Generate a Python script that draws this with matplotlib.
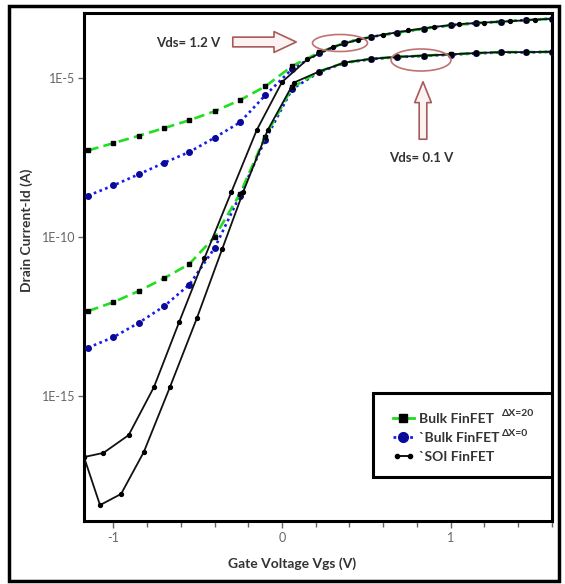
import numpy as np
import matplotlib
matplotlib.use("Agg")
import matplotlib.pyplot as plt
from matplotlib.lines import Line2D
from matplotlib.patches import Rectangle, Ellipse, FancyArrowPatch
from matplotlib.legend_handler import HandlerLine2D
from matplotlib.ticker import FixedLocator, FixedFormatter, MultipleLocator, NullLocator

plt.rcParams['font.family'] = ['Lato', 'DejaVu Sans']

# ---- data: gate voltage (V) and log10 of drain current (A) ----
vgs_bulk = [-1.15, -1.0, -0.85, -0.7, -0.55, -0.4, -0.25, -0.1, 0.06, 0.22,
            0.37, 0.53, 0.68, 0.84, 1.0, 1.15, 1.3, 1.45, 1.6]

# Bulk FinFET, dX = 20
log_id_bulk20_hi = [-7.28, -7.05, -6.82, -6.58, -6.33, -6.05, -5.70, -5.27, -4.63, -4.20,
                    -3.90, -3.71, -3.58, -3.45, -3.35, -3.28, -3.23, -3.18, -3.14]
log_id_bulk20_lo = [-12.33, -12.05, -11.70, -11.30, -10.85, -10.00, -8.65, -6.85, -5.30, -4.80,
                    -4.52, -4.40, -4.34, -4.30, -4.26, -4.22, -4.19, -4.19, -4.18]
# Bulk FinFET, dX = 0
log_id_bulk0_hi = [-8.70, -8.38, -8.03, -7.67, -7.33, -6.88, -6.40, -5.55, -4.72, -4.22,
                   -3.90, -3.71, -3.58, -3.45, -3.35, -3.28, -3.23, -3.18, -3.14]
log_id_bulk0_lo = [-13.48, -13.15, -12.70, -12.18, -11.50, -10.35, -8.70, -6.95, -5.35, -4.82,
                   -4.53, -4.41, -4.35, -4.31, -4.27, -4.23, -4.20, -4.20, -4.18]

# SOI FinFET
vgs_soi_hi = [-1.175, -1.06, -0.91, -0.76, -0.61, -0.46, -0.30, -0.15, 0.0, 0.15,
              0.3, 0.45, 0.6, 0.75, 0.9, 1.05, 1.2, 1.35, 1.5, 1.6]
log_id_soi_hi = [-16.92, -16.79, -16.23, -14.72, -12.67, -10.66, -8.58, -6.64, -5.13, -4.42,
                 -4.03, -3.80, -3.64, -3.51, -3.40, -3.31, -3.26, -3.22, -3.17, -3.14]
vgs_soi_lo = [-1.175, -1.08, -0.955, -0.82, -0.665, -0.505, -0.355, -0.23, -0.085, 0.07,
              0.22, 0.37, 0.53, 0.68, 0.84, 1.0, 1.15, 1.3, 1.45, 1.6]
log_id_soi_lo = [-16.92, -18.43, -18.08, -16.76, -14.72, -12.55, -10.38, -8.58, -6.64, -5.15,
                 -4.80, -4.52, -4.40, -4.34, -4.30, -4.26, -4.22, -4.19, -4.19, -4.18]

x_ticks = [-1, 0, 1]
x_tick_labels = ["-1", "0", "1"]
y_ticks = [1e-15, 1e-10, 1e-5]
y_tick_labels = ["1E-15", "1E-10", "1E-5"]

W, H = 565, 584
fig = plt.figure(figsize=(W / 100, H / 100), dpi=100)
fig.patch.set_facecolor("white")

def fx(px):
    return px / W

def fy(py):
    return 1 - py / H

ax = fig.add_axes([fx(84), fy(521), fx(552) - fx(84), fy(13) - fy(521)])
ax.set_yscale("log")
ax.set_xlim(-1.175, 1.602)
ax.set_ylim(10 ** -18.93, 10 ** -2.96)

green = "#22dd22"
blue = "#1a1aee"
navy = "#0a0a9a"

def curve(x, logy):
    return np.asarray(x), 10.0 ** np.asarray(logy)

for lo_hi in (log_id_bulk0_hi, log_id_bulk0_lo):
    x, y = curve(vgs_bulk, lo_hi)
    ax.plot(x, y, color=blue, lw=1.9, ls=(0, (1, 1.3)), zorder=3)
    ax.plot(x, y, ls="none", marker="o", ms=4, mfc=navy, mec=navy, zorder=4)

for lo_hi in (log_id_bulk20_hi, log_id_bulk20_lo):
    x, y = curve(vgs_bulk, lo_hi)
    ax.plot(x, y, color=green, lw=1.9, ls=(0, (4, 2)), zorder=5)
    ax.plot(x, y, ls="none", marker="s", ms=3.5, mfc="black", mec="black", zorder=6)

for xs, ls_ in ((vgs_soi_hi, log_id_soi_hi), (vgs_soi_lo, log_id_soi_lo)):
    x, y = curve(xs, ls_)
    ax.plot(x, y, color="#111111", lw=1.3, marker="o", ms=2.8, mfc="black", mec="black", zorder=7)

# axes styling
for s in ax.spines.values():
    s.set_linewidth(2.2)
    s.set_color("black")
ax.xaxis.set_major_locator(FixedLocator(x_ticks))
ax.xaxis.set_major_formatter(FixedFormatter(x_tick_labels))
ax.xaxis.set_minor_locator(MultipleLocator(0.2))
ax.yaxis.set_major_locator(FixedLocator(y_ticks))
ax.yaxis.set_major_formatter(FixedFormatter(y_tick_labels))
ax.yaxis.set_minor_locator(NullLocator())
ax.tick_params(axis="x", which="major", direction="out", length=5, width=1, colors="#666666",
               labelsize=9, pad=3)
ax.tick_params(axis="x", which="minor", direction="out", length=4, width=1, colors="#666666")
ax.tick_params(axis="y", which="major", direction="out", length=4, width=1, colors="#666666",
               labelsize=9, pad=2)

fig.text(fx(292), fy(564), "Gate Voltage Vgs (V)", ha="center", va="center",
         fontsize=10, fontweight="bold", color="#333333")
fig.text(fx(27), fy(230), "Drain Current-Id (A)", ha="center", va="center", rotation=90,
         fontsize=10, fontweight="bold", color="#333333")

# annotations
def ax_pt(px, py):
    return ((px - 84) / 468.0, (521 - py) / 508.0)

arrow_ec = "#a85a5a"
arrow_fc = "#fdf2f2"
a1 = FancyArrowPatch(ax_pt(230, 42), ax_pt(299, 42), transform=ax.transAxes,
                     arrowstyle="simple,head_length=1.6,head_width=1.5,tail_width=0.7",
                     mutation_scale=10, fc=arrow_fc, ec=arrow_ec, lw=1.2, zorder=8)
ax.add_patch(a1)
a2 = FancyArrowPatch(ax_pt(423, 142), ax_pt(423, 79), transform=ax.transAxes,
                     arrowstyle="simple,head_length=1.5,head_width=1.2,tail_width=0.55",
                     mutation_scale=10, fc=arrow_fc, ec=arrow_ec, lw=1.2, zorder=8)
ax.add_patch(a2)
e1 = Ellipse(ax_pt(340, 43), 55 / 468.0, 17 / 508.0, transform=ax.transAxes,
             fill=False, ec="#c07272", lw=1.2, zorder=8)
ax.add_patch(e1)
e2 = Ellipse(ax_pt(421, 60), 60 / 468.0, 22 / 508.0, transform=ax.transAxes,
             fill=False, ec="#c07272", lw=1.2, zorder=8)
ax.add_patch(e2)
ax.text(*ax_pt(188, 43), "Vds= 1.2 V", transform=ax.transAxes, ha="center", va="center",
        fontsize=9.5, fontweight="bold", color="#333333", zorder=9)
ax.text(*ax_pt(421, 158), "Vds= 0.1 V", transform=ax.transAxes, ha="center", va="center",
        fontsize=9.5, fontweight="bold", color="#333333", zorder=9)

# legend
lg_box = Rectangle(ax_pt(373, 477), (552 - 373) / 468.0, (477 - 393) / 508.0,
                   transform=ax.transAxes, fc="white", ec="black", lw=2.2, zorder=10)
ax.add_patch(lg_box)
h1 = Line2D([], [], color=green, lw=2.0, marker="s", ms=6, mfc="black", mec="black")
h2 = Line2D([], [], color=blue, lw=2.0, ls=(0, (1, 1)), marker="o", ms=7, mfc=navy, mec=navy)
h3 = Line2D([], [], color="black", lw=1.3, marker="o", ms=3, mfc="black", mec="black")
leg = ax.legend([h1, h2, h3], ["Bulk FinFET", "`Bulk FinFET", "`SOI FinFET"],
                loc="upper left", bbox_to_anchor=ax_pt(386, 406), frameon=False,
                handlelength=1.5, handletextpad=0.35, labelspacing=0.5, borderpad=0,
                handler_map={h3: HandlerLine2D(numpoints=2)},
                prop={"weight": "bold", "size": 10})
for t in leg.get_texts():
    t.set_color("#333333")
leg.set_zorder(11)
ax.text(*ax_pt(502, 413), "ΔX=20", transform=ax.transAxes, ha="left", va="center",
        fontsize=7.5, fontweight="bold", color="#333333", zorder=12)
ax.text(*ax_pt(502, 434), "ΔX=0", transform=ax.transAxes, ha="left", va="center",
        fontsize=7.5, fontweight="bold", color="#333333", zorder=12)

# outer frame
fig.patches.append(Rectangle((fx(9), fy(581)), fx(559) - fx(9), fy(6) - fy(581),
                             transform=fig.transFigure, fill=False, ec="black", lw=2.5))

fig.savefig("out.png", dpi=100)
